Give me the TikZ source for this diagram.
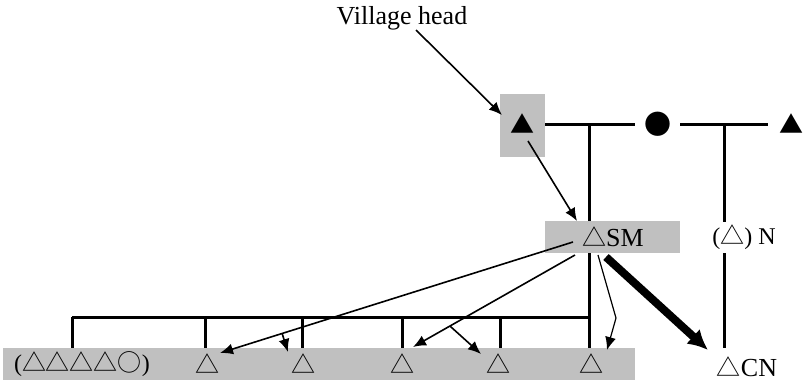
\documentclass[tikz,border=0pt]{standalone}
\usepackage{fontspec}
\setmainfont{Liberation Serif}
\newfontfamily\cjk{Noto Sans CJK JP}
\newcommand\cjks{\cjk\fontsize{12}{14}\selectfont}
\usetikzlibrary{arrows.meta}
\definecolor{boxgray}{RGB}{192,192,192}
\pgfdeclarelayer{bg}
\pgfsetlayers{bg,main}
\begin{document}
\begin{tikzpicture}[x=0.5pt,y=-0.5pt,
  font=\fontsize{13}{15}\selectfont,
  struct/.style={line width=1.5pt},
  graybox/.style={fill=boxgray, draw=none, inner sep=0pt},
  lbl/.style={inner sep=0pt},
  thinarrow/.style={line width=0.8pt, -{Latex[length=6.5pt,width=5.5pt]}},
  hairarrow/.style={line width=0.6pt, -{Latex[length=6.5pt,width=5.5pt]}},
  bigarrow/.style={line width=4pt, -{Latex[length=10pt,width=10pt]}}]
\useasboundingbox (0,0) rectangle (810,382);

% boxes and labels
\node[lbl] (vh) at (402,18) {Village head};
\node[graybox, minimum width=22.5pt, minimum height=31.5pt] (headbox) at (522.5,125.5) {};
\node[lbl] (head) at (522.5,124) {\cjks ▲};
\node[lbl] (dot) at (658,124) {\cjk\fontsize{13.5}{15}\selectfont ●};
\node[lbl] (tri) at (791,124) {\cjks ▲};
\node[graybox, minimum width=67.5pt, minimum height=16pt] (smbox) at (612.5,237) {};
\node[lbl] (sm) at (613,237) {{\cjks △}SM};
\node[lbl] (n) at (744,237) {\fontsize{12}{14}\selectfont({\cjks △}) N};
\node[graybox, minimum width=316pt, minimum height=16pt] (bar) at (319,364) {};
\node[lbl] (grp) at (82,364) {\fontsize{12}{14}\selectfont({\cjks △△△△○})};
\node[lbl] (t1) at (207,364) {\cjks △};
\node[lbl] (t2) at (303,364) {\cjks △};
\node[lbl] (t3) at (402,364) {\cjks △};
\node[lbl] (t4) at (498,364) {\cjks △};
\node[lbl] (t5) at (591,364) {\cjks △};
\node[lbl] (cn) at (747,367) {{\cjks △}CN};

% kinship structure (behind boxes)
\coordinate (hr) at (545,124);
\coordinate (dl) at (635,124);
\coordinate (dr) at (680,124);
\coordinate (tl) at (768,124);
\coordinate (j1) at (589,124);
\coordinate (j1b) at (589,348);
\coordinate (j2) at (724,124);
\coordinate (j2a) at (724,222);
\coordinate (j2b) at (724,253);
\coordinate (j2c) at (724,348);
\coordinate (bl) at (72,317);
\coordinate (br) at (589,317);
\begin{pgfonlayer}{bg}
\draw[struct] (hr) -- (dl);
\draw[struct] (dr) -- (tl);
\draw[struct] (j1) -- (j1b);
\draw[struct] (j2) -- (j2a);
\draw[struct] (j2b) -- (j2c);
\draw[struct] (bl) -- (br);
\foreach \x in {72,205,302,402,500}
  \draw[struct] (\x,317) -- (\x,348);
\end{pgfonlayer}

% arrows
\coordinate (a1s) at (416,30);
\coordinate (a1e) at (502,115);
\draw[thinarrow] (a1s) -- (a1e);
\coordinate (a2s) at (528,141);
\coordinate (a2e) at (577,221);
\draw[thinarrow] (a2s) -- (a2e);
\coordinate (a3s) at (573,242);
\coordinate (a3e) at (220,353);
\draw[thinarrow] (a3s) -- (a3e);
\coordinate (a4s) at (575,255);
\coordinate (a4e) at (413,347);
\draw[thinarrow] (a4s) -- (a4e);
\path (a3s) -- (a3e) coordinate[pos=0.824] (b3);
\coordinate (a5e) at (288,352);
\draw[thinarrow] (b3) -- (a5e);
\path (a4s) -- (a4e) coordinate[pos=0.772] (b4);
\coordinate (a6e) at (481,354);
\draw[thinarrow] (b4) -- (a6e);
\coordinate (a7s) at (598,255);
\coordinate (a7m) at (616,318);
\coordinate (a7e) at (607,350);
\draw[hairarrow] (a7s) -- (a7m) -- (a7e);
\coordinate (a8s) at (606,257);
\coordinate (a8e) at (708,350);
\draw[bigarrow] (a8s) -- (a8e);
\end{tikzpicture}
\end{document}
